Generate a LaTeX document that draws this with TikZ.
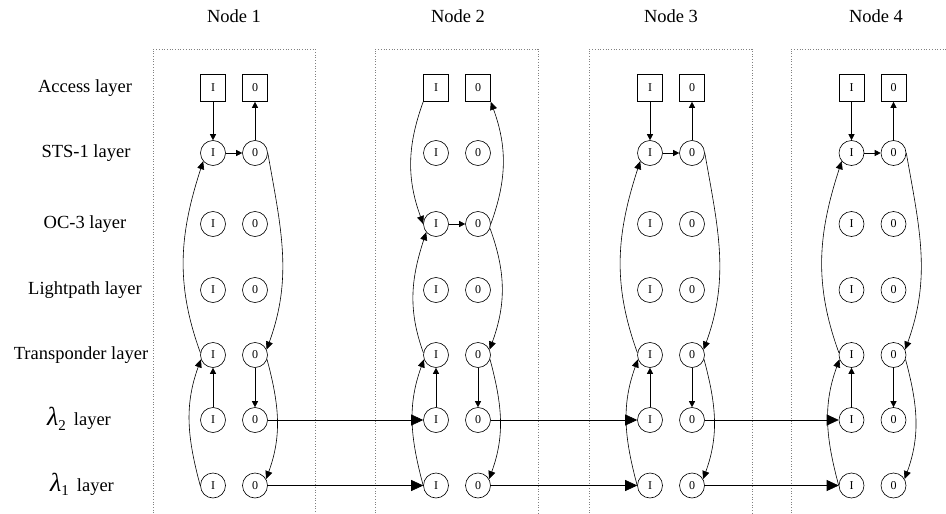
\documentclass[tikz,border=0pt]{standalone}
\usepackage{fontspec}
\setmainfont{Liberation Serif}
\usetikzlibrary{arrows.meta}
\begin{document}
\begin{tikzpicture}[x=1pt,y=1pt,
  cnode/.style={circle,draw,line width=0.6pt,minimum size=25pt,inner sep=0pt,font=\fontsize{12}{12}\selectfont},
  snode/.style={rectangle,draw,line width=0.6pt,minimum width=25pt,minimum height=27pt,inner sep=0pt,font=\fontsize{12}{12}\selectfont},
  lbl/.style={font=\fontsize{18.5}{20}\selectfont,inner sep=0pt},
  dotbox/.style={draw=gray,dotted,line width=0.7pt},
  sarr/.style={line width=0.6pt,-{Triangle[length=6pt,width=6pt]}},
  carr/.style={line width=0.6pt,-{Triangle[length=8pt,width=7pt]}},
  harr/.style={line width=0.6pt,-{Triangle[length=12pt,width=11pt]}},
]
\useasboundingbox (0,0) rectangle (946,-514);

% dotted node boxes
\draw[dotbox] (153,-513) -- (153,-49) -- (315,-49) -- (315,-513);
\draw[dotbox] (375,-513) -- (375,-49) -- (538,-49) -- (538,-513);
\draw[dotbox] (589,-513) -- (589,-49) -- (752,-49) -- (752,-513);
\draw[dotbox] (791,-513) -- (791,-49) -- (946,-49);

% headings
\node[lbl] (H1) at (234,-16) {Node 1};
\node[lbl] (H2) at (458,-16) {Node 2};
\node[lbl] (H3) at (671,-16) {Node 3};
\node[lbl] (H4) at (876,-16) {Node 4};

% layer labels
\node[lbl] (L1) at (85,-88) {Access layer};
\node[lbl] (L2) at (86,-153) {STS-1 layer};
\node[lbl] (L3) at (85,-224) {OC-3 layer};
\node[lbl] (L4) at (85,-290) {Lightpath layer};
\node[lbl] (L5) at (81,-355) {Transponder layer};
\node[lbl] (L6) at (79,-419) {{\fontsize{26}{26}\selectfont\itshape λ}\raisebox{-4.5pt}{\fontsize{15}{15}\selectfont 2}\hspace{8pt}layer};
\node[lbl] (L7) at (82,-484.5) {{\fontsize{26}{26}\selectfont\itshape λ}\raisebox{-4.5pt}{\fontsize{15}{15}\selectfont 1}\hspace{8pt}layer};

% nodes
\foreach \k/\x in {1/213,2/436,3/650,4/851.5}{
  \node[snode] (a\k-I) at (\x,-88) {I};
  \node[snode] (a\k-O) at (\x+42,-88) {0};
  \foreach \r/\y in {s/-153,o/-224,l/-290,t/-355,b/-420,c/-485.5}{
    \node[cnode] (\r\k-I) at (\x,\y) {I};
    \node[cnode] (\r\k-O) at (\x+42,\y) {0};
  }
}

% STS-1 type nodes
\foreach \k in {1,3,4}{
  \draw[sarr] (a\k-I) -- (s\k-I);
  \draw[sarr] (s\k-O) -- (a\k-O);
  \draw[sarr] (s\k-I) -- (s\k-O);
  \draw[carr] (t\k-I.170) to[out=110,in=-108] (s\k-I.220);
  \draw[carr] (s\k-O.east) to[out=-80,in=70] (t\k-O.25);
}
% OC-3 type node
\draw[carr] (a2-I.south west) to[out=-110,in=110] (o2-I.west);
\draw[carr] (o2-O.east) to[out=70,in=-70] (a2-O.south east);
\draw[sarr] (o2-I) -- (o2-O);
\draw[carr] (t2-I.170) to[out=110,in=-108] (o2-I.220);
\draw[carr] (o2-O.-20) to[out=-70,in=70] (t2-O.25);

% lower part, all nodes
\foreach \k in {1,2,3,4}{
  \draw[carr] (c\k-I.west) to[out=105,in=-110] (t\k-I.200);
  \draw[carr] (t\k-O.-20) to[out=-75,in=70] (c\k-O.30);
  \draw[sarr] (b\k-I) -- (t\k-I);
  \draw[sarr] (t\k-O) -- (b\k-O);
}

% inter-node links
\foreach \k/\j in {1/2,2/3,3/4}{
  \draw[harr] (b\k-O) -- (b\j-I);
  \draw[harr] (c\k-O) -- (c\j-I);
}
\end{tikzpicture}
\end{document}
